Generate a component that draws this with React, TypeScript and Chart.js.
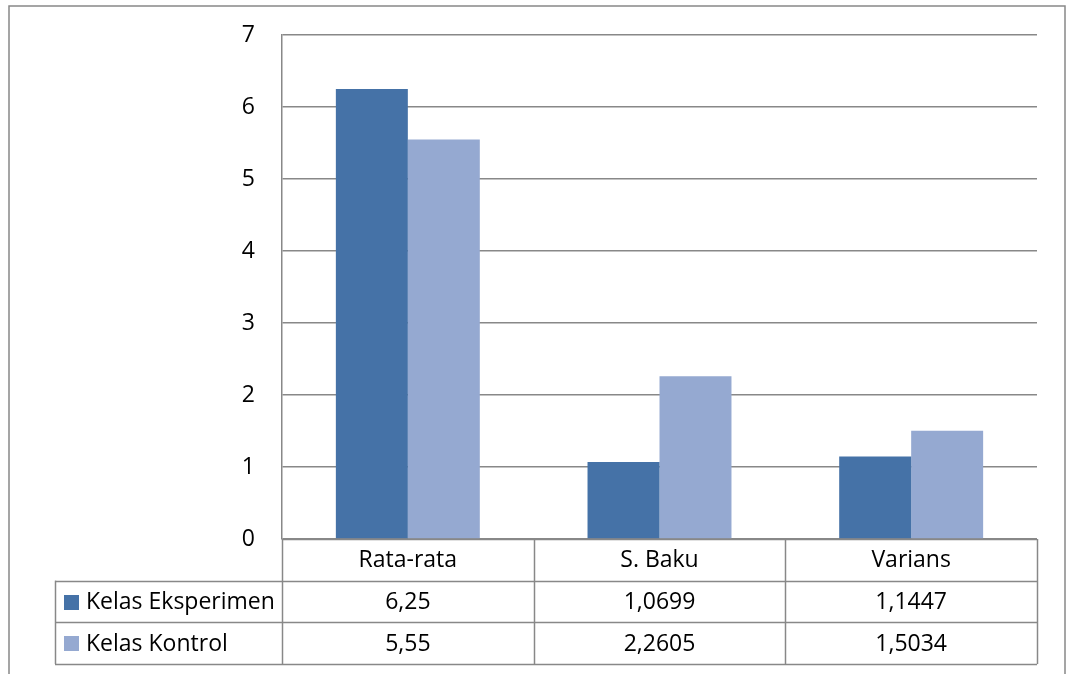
import React, { useEffect, useRef } from "react";
import { Chart, registerables } from "chart.js";

Chart.register(...registerables);

const categories = ["Rata-rata", "S. Baku", "Varians"];
const seriesNames = ["Kelas Eksperimen", "Kelas Kontrol"];
const eksperimen = [6.25, 1.0699, 1.1447];
const kontrol = [5.55, 2.2605, 1.5034];
const eksperimenLabels = ["6,25", "1,0699", "1,1447"];
const kontrolLabels = ["5,55", "2,2605", "1,5034"];
const colors = ["#4572A7", "#95A9D1"];

const FONT = "'Open Sans', sans-serif";
const FONT_SIZE = 23;
const LINE = "#888888";

const tablePlugin = {
  id: "dataTable",
  afterDraw(chart: any) {
    const ctx = chart.ctx as CanvasRenderingContext2D;
    const area = chart.chartArea;
    const x = chart.scales.x;
    const n = categories.length;
    const catW = (area.right - area.left) / n;
    const rowH = 41.7;
    const top = area.bottom;
    const tableLeft = 55;
    const bounds: number[] = [];
    for (let i = 0; i <= n; i++) bounds.push(area.left + i * catW);

    ctx.save();
    ctx.strokeStyle = LINE;
    ctx.lineWidth = 1.5;
    const hline = (x1: number, x2: number, y: number) => {
      const yy = Math.round(y) + 0.5;
      ctx.beginPath();
      ctx.moveTo(x1, yy);
      ctx.lineTo(x2, yy);
      ctx.stroke();
    };
    const vline = (xx: number, y1: number, y2: number) => {
      const x0 = Math.round(xx) + 0.5;
      ctx.beginPath();
      ctx.moveTo(x0, y1);
      ctx.lineTo(x0, y2);
      ctx.stroke();
    };
    hline(area.left, area.right, top);
    hline(tableLeft, area.right, top + rowH);
    hline(tableLeft, area.right, top + 2 * rowH);
    hline(tableLeft, area.right, top + 3 * rowH);
    vline(tableLeft, top + rowH, top + 3 * rowH);
    bounds.forEach((b) => vline(b, top, top + 3 * rowH));

    ctx.fillStyle = "#000";
    ctx.font = `${FONT_SIZE}px ${FONT}`;
    ctx.textAlign = "center";
    ctx.textBaseline = "middle";
    categories.forEach((c, i) => {
      const cx = x.getPixelForValue(i);
      ctx.fillText(c, cx, top + rowH / 2 + 1);
      ctx.fillText(eksperimenLabels[i], cx, top + rowH * 1.5 + 1);
      ctx.fillText(kontrolLabels[i], cx, top + rowH * 2.5 + 1);
    });

    ctx.textAlign = "left";
    seriesNames.forEach((s, j) => {
      const cy = top + rowH * (1.5 + j);
      ctx.fillStyle = colors[j];
      ctx.fillRect(64, Math.round(cy) - 7, 15, 15);
      ctx.fillStyle = "#000";
      ctx.fillText(s, 86, cy + 1);
    });

    // outer frame
    ctx.strokeStyle = "#888";
    ctx.lineWidth = 1.5;
    ctx.beginPath();
    ctx.moveTo(9, 700);
    ctx.lineTo(9, 6);
    ctx.lineTo(1065, 6);
    ctx.lineTo(1065, 700);
    ctx.stroke();
    ctx.restore();
  },
};

export default function App() {
  const ref = useRef<HTMLCanvasElement>(null);
  useEffect(() => {
    document.body.style.margin = "0";
    const chart = new Chart(ref.current!, {
      type: "bar",
      data: {
        labels: categories,
        datasets: [
          { label: seriesNames[0], data: eksperimen, backgroundColor: colors[0] },
          { label: seriesNames[1], data: kontrol, backgroundColor: colors[1] },
        ],
      },
      options: {
        animation: false,
        responsive: false,
        maintainAspectRatio: false,
        layout: { padding: { top: 35, bottom: 135, right: 30, left: 0 } },
        plugins: { legend: { display: false }, tooltip: { enabled: false } },
        datasets: { bar: { categoryPercentage: 0.572, barPercentage: 1 } },
        scales: {
          x: { display: false },
          y: {
            min: 0,
            max: 7,
            ticks: {
              stepSize: 1,
              padding: 0,
              color: "#000",
              font: { family: FONT, size: FONT_SIZE },
            },
            grid: {
              color: LINE,
              drawTicks: true,
              tickLength: 27,
              tickColor: "rgba(0,0,0,0)",
              lineWidth: 1.5,
            },
            border: { display: true, color: LINE, width: 1.5 },
            afterFit: (s: any) => {
              s.width = 282;
            },
          },
        },
      },
      plugins: [tablePlugin],
    });
    return () => chart.destroy();
  }, []);
  return <canvas ref={ref} width={1067} height={674} style={{ display: "block" }} />;
}
